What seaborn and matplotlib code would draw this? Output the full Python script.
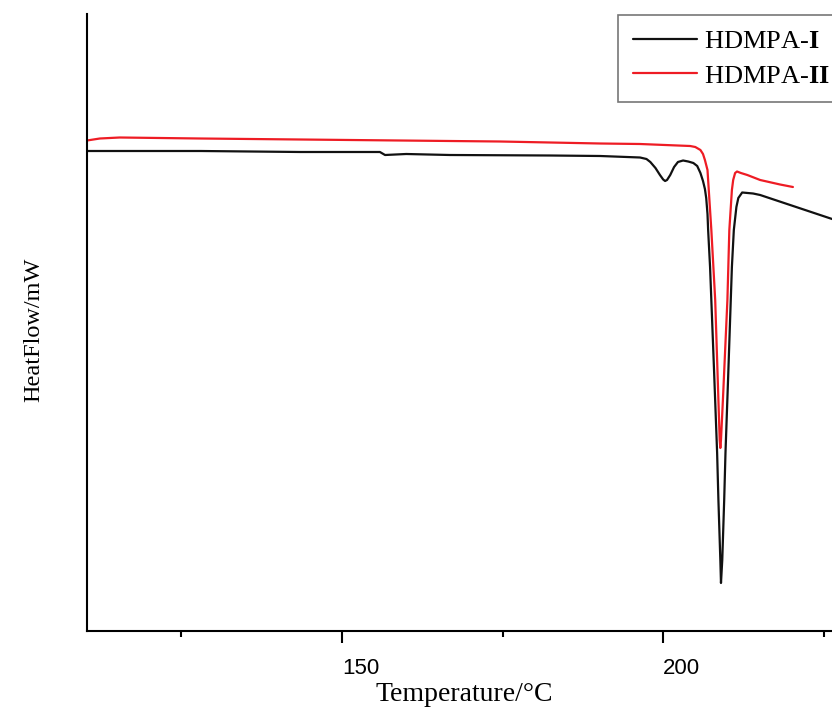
import numpy as np
import pandas as pd
import matplotlib
matplotlib.use("Agg")
import matplotlib.pyplot as plt
import seaborn as sns

# DSC traces (temperature in degC, heat flow in arbitrary mW units)
temp_I = [110.3, 128.0, 143.5, 155.9, 156.7, 160.0, 166.8, 182.4, 190.2, 196.4,
          197.4, 198.0, 198.8, 199.5, 200.0, 200.3, 200.6, 201.1, 201.7, 202.3, 203.1,
          203.9, 204.7, 205.3, 205.8, 206.2, 206.5, 206.7, 206.9, 207.0, 207.3,
          207.9, 208.4, 208.6, 208.9, 209.0, 209.2, 209.5, 209.7, 210.1, 210.7,
          211.0, 211.4, 211.7, 212.3, 214.0, 215.1, 226.3, 228.0]
flow_I = [9.60, 9.60, 9.58, 9.58, 9.52, 9.54, 9.52, 9.51, 9.50, 9.47,
          9.44, 9.38, 9.26, 9.12, 9.03, 9.00, 9.02, 9.12, 9.28, 9.38, 9.41,
          9.39, 9.36, 9.30, 9.16, 9.00, 8.84, 8.66, 8.34, 8.02, 7.28,
          5.28, 3.56, 2.62, 1.42, 0.96, 1.42, 2.62, 3.56, 5.02, 7.28,
          8.02, 8.48, 8.66, 8.77, 8.75, 8.72, 8.24, 8.17]

temp_II = [110.3, 112.3, 115.4, 127.9, 143.5, 159.0, 174.6, 190.2, 196.4, 204.2,
           205.0, 205.8, 206.2, 206.5, 206.9, 207.0, 207.2, 207.5, 208.1, 208.6,
           208.8, 208.9, 209.0, 209.3, 210.0, 210.3, 210.6, 210.7, 210.9, 211.2,
           211.5, 212.1, 213.1, 215.1, 218.2, 220.2]
flow_II = [9.81, 9.85, 9.87, 9.85, 9.83, 9.81, 9.79, 9.75, 9.74, 9.70,
           9.68, 9.62, 9.54, 9.42, 9.22, 9.02, 8.62, 8.02, 6.62, 4.62,
           3.82, 3.66, 3.82, 4.62, 6.62, 8.02, 8.62, 8.82, 9.02, 9.16,
           9.19, 9.16, 9.12, 9.02, 8.93, 8.88]

labels = ["HDMPA-$\\mathbf{I}$", "HDMPA-$\\mathbf{II}$"]
colors = ["#111111", "#ee1c24"]

data = pd.concat([
    pd.DataFrame({"Temperature": temp_I, "HeatFlow": flow_I, "Sample": labels[0]}),
    pd.DataFrame({"Temperature": temp_II, "HeatFlow": flow_II, "Sample": labels[1]}),
], ignore_index=True)

sns.set_theme(style="white")
plt.rcParams["font.family"] = ["Liberation Serif", "DejaVu Serif"]
plt.rcParams["mathtext.fontset"] = "custom"
plt.rcParams["mathtext.rm"] = "Liberation Serif"
plt.rcParams["mathtext.bf"] = "Liberation Serif:bold"
plt.rcParams["text.color"] = "black"
plt.rcParams["axes.labelcolor"] = "black"
plt.rcParams["xtick.color"] = "black"

fig = plt.figure(figsize=(8.32, 7.17), dpi=100)
ax = fig.add_axes([87 / 832, 86 / 717, 783 / 832, 617 / 717])

sns.lineplot(data=data, x="Temperature", y="HeatFlow", hue="Sample",
             palette=colors, estimator=None, sort=False, linewidth=1.6,
             legend=False, ax=ax)

ax.set_xlim(110.3, 232.2)
ax.set_ylim(0, 12.34)

for side in ["top", "right"]:
    ax.spines[side].set_visible(False)
for side in ["left", "bottom"]:
    ax.spines[side].set_color("black")
    ax.spines[side].set_linewidth(1.5)

ax.set_xticks([150, 200])
ax.set_xticks([125, 175, 225], minor=True)
ax.set_yticks([])
ax.tick_params(axis="x", which="major", direction="out", length=8.5, width=1.5,
               color="black", labelcolor="black", pad=11, bottom=True)
ax.tick_params(axis="x", which="minor", direction="out", length=4, width=1.5,
               color="black", bottom=True)
for lab in ax.get_xticklabels():
    lab.set_fontfamily(["Liberation Sans", "DejaVu Sans"])
    lab.set_fontsize(16)
    lab.set_horizontalalignment("left")

ax.set_xlabel("Temperature/°C", fontsize=20)
ax.xaxis.set_label_coords(0.482, -0.082)
ax.set_ylabel("HeatFlow/mW", fontsize=17.5)
ax.yaxis.set_label_coords(-0.054, 0.488)

leg = ax.legend(ax.lines, labels, loc="upper left",
                bbox_to_anchor=(618 / 832, 1 - 15 / 717),
                bbox_transform=fig.transFigure, fontsize=19, frameon=True,
                fancybox=False, handlelength=2.45, handletextpad=0.27,
                labelspacing=0.42, borderpad=0.55, borderaxespad=0)
leg.get_frame().set_edgecolor("#555555")
leg.get_frame().set_linewidth(1.2)

plt.savefig("out.png", dpi=100)
